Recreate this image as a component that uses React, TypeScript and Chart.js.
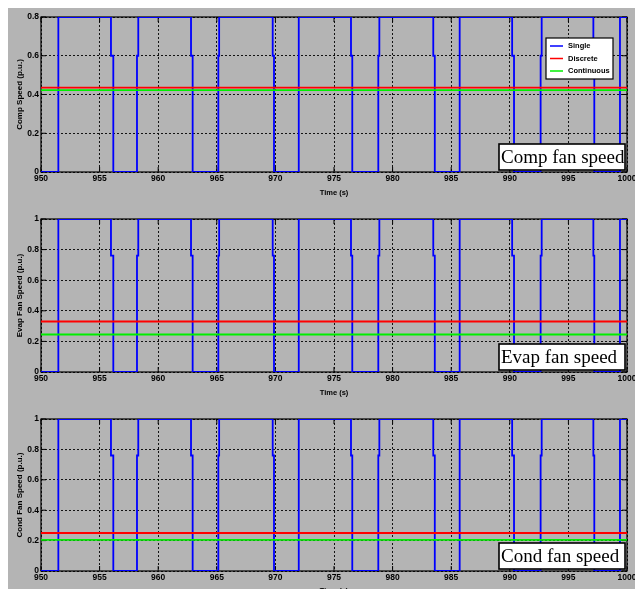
import React, { useEffect, useRef } from "react";
import { Chart, registerables } from "chart.js";

Chart.register(...registerables);

// ---- data ----
const singleTime = [
  950, 951.48, 951.48,
  955.97, 955.97, 956.17, 956.17,
  958.19, 958.19, 958.3, 958.3,
  962.8, 962.8, 962.94, 962.94,
  965.13, 965.13, 965.2, 965.2,
  969.77, 969.77, 969.88, 969.88,
  971.96, 971.96, 972.01, 972.01,
  976.45, 976.45, 976.56, 976.56,
  978.78, 978.78, 978.87, 978.87,
  983.47, 983.47, 983.6, 983.6,
  985.67, 985.67, 985.75, 985.75,
  990.2, 990.2, 990.36, 990.36,
  992.63, 992.63, 992.72, 992.72,
  997.13, 997.13, 997.21, 997.21,
  999.4, 999.4, 1000,
];
const compSingle = [
  0, 0, 0.8,
  0.8, 0.6, 0.6, 0,
  0, 0.6, 0.6, 0.8,
  0.8, 0.6, 0.6, 0,
  0, 0.6, 0.6, 0.8,
  0.8, 0.6, 0.6, 0,
  0, 0.6, 0.6, 0.8,
  0.8, 0.6, 0.6, 0,
  0, 0.6, 0.6, 0.8,
  0.8, 0.6, 0.6, 0,
  0, 0.6, 0.6, 0.8,
  0.8, 0.6, 0.6, 0,
  0, 0.6, 0.6, 0.8,
  0.8, 0.6, 0.6, 0,
  0, 0.8, 0.8,
];
const fanSingle = [
  0, 0, 1,
  1, 0.76, 0.76, 0,
  0, 0.76, 0.76, 1,
  1, 0.76, 0.76, 0,
  0, 0.76, 0.76, 1,
  1, 0.76, 0.76, 0,
  0, 0.76, 0.76, 1,
  1, 0.76, 0.76, 0,
  0, 0.76, 0.76, 1,
  1, 0.76, 0.76, 0,
  0, 0.76, 0.76, 1,
  1, 0.76, 0.76, 0,
  0, 0.76, 0.76, 1,
  1, 0.76, 0.76, 0,
  0, 1, 1,
];
const flatTime = [950, 1000];
const compDiscrete = [0.435, 0.435];
const compContinuous = [0.423, 0.423];
const evapDiscrete = [0.33, 0.33];
const evapContinuous = [0.245, 0.245];
const condDiscrete = [0.25, 0.25];
const condContinuous = [0.205, 0.205];

const xTickValues = [950, 955, 960, 965, 970, 975, 980, 985, 990, 995, 1000];
const compYTicks = [0, 0.2, 0.4, 0.6, 0.8];
const fanYTicks = [0, 0.2, 0.4, 0.6, 0.8, 1];

const seriesNames = ["Single", "Discrete", "Continuous"];
const seriesColors = ["#0000ff", "#ff0000", "#00ee00"];
const xTitle = "Time (s)";

const toPoints = (xs: number[], ys: number[]) => xs.map((x, i) => ({ x, y: ys[i] }));

const decorPlugin = {
  id: "decor",
  beforeDatasetsDraw(chart: any, _args: any, opts: any) {
    const { ctx, chartArea: a } = chart;
    const xs = chart.scales.x;
    const ys = chart.scales.y;
    ctx.save();
    ctx.setLineDash([]);
    ctx.strokeStyle = "#000";
    ctx.lineWidth = 1.2;
    ctx.strokeRect(a.left, a.top, a.right - a.left, a.bottom - a.top);
    ctx.lineWidth = 1;
    ctx.beginPath();
    xs.ticks.forEach((t: any) => {
      const px = xs.getPixelForValue(t.value);
      ctx.moveTo(px, a.bottom);
      ctx.lineTo(px, a.bottom - 5);
      ctx.moveTo(px, a.top);
      ctx.lineTo(px, a.top + 5);
    });
    ys.ticks.forEach((t: any) => {
      const py = ys.getPixelForValue(t.value);
      ctx.moveTo(a.left, py);
      ctx.lineTo(a.left + 5, py);
      ctx.moveTo(a.right, py);
      ctx.lineTo(a.right - 5, py);
    });
    ctx.stroke();
    ctx.restore();
  },
  afterDraw(chart: any, _args: any, opts: any) {
    const { ctx, chartArea: a } = chart;
    ctx.save();
    ctx.setLineDash([]);
    if (opts.legend) {
      const lx = a.right - 81;
      const ly = a.top + 21;
      const lw = 67;
      const lh = 41;
      ctx.fillStyle = "#fff";
      ctx.fillRect(lx, ly, lw, lh);
      ctx.strokeStyle = "#000";
      ctx.lineWidth = 1.2;
      ctx.strokeRect(lx, ly, lw, lh);
      ctx.font = "bold 7.5px 'Liberation Sans', Arial, sans-serif";
      ctx.textBaseline = "middle";
      ctx.textAlign = "left";
      chart.data.datasets.forEach((ds: any, i: number) => {
        const yy = ly + 8 + i * 12.5;
        ctx.strokeStyle = ds.borderColor;
        ctx.lineWidth = 1.5;
        ctx.beginPath();
        ctx.moveTo(lx + 4, yy);
        ctx.lineTo(lx + 17, yy);
        ctx.stroke();
        ctx.fillStyle = "#000";
        ctx.fillText(ds.label, lx + 22, yy);
      });
    }
    if (opts.label) {
      const bw = 126;
      const bh = 26;
      const bx = a.right - 2 - bw;
      const by = a.bottom - 2 - bh;
      ctx.fillStyle = "#fff";
      ctx.fillRect(bx, by, bw, bh);
      ctx.strokeStyle = "#000";
      ctx.lineWidth = 1.6;
      ctx.strokeRect(bx, by, bw, bh);
      ctx.fillStyle = "#000";
      ctx.font = "19px 'Liberation Serif', 'Times New Roman', serif";
      ctx.textBaseline = "alphabetic";
      ctx.textAlign = "left";
      ctx.fillText(opts.label, bx + 2, by + 19);
    }
    ctx.restore();
  },
};

type PanelProps = {
  top: number;
  chartTop: number;
  chartBottom: number;
  titlePad: number;
  single: number[];
  discrete: number[];
  continuous: number[];
  yTicks: number[];
  yMax: number;
  yTitle: string;
  label: string;
  legend: boolean;
};

const CANVAS_W = 627;
const CANVAS_H = 200;

function Panel(p: PanelProps) {
  const ref = useRef<HTMLCanvasElement>(null);
  useEffect(() => {
    if (!ref.current) return;
    const chart = new Chart(ref.current, {
      type: "line",
      data: {
        datasets: [
          {
            label: seriesNames[0],
            data: toPoints(singleTime, p.single),
            borderColor: seriesColors[0],
            borderWidth: 1.8,
            pointRadius: 0,
            tension: 0,
            order: 3,
          },
          {
            label: seriesNames[1],
            data: toPoints(flatTime, p.discrete),
            borderColor: seriesColors[1],
            borderWidth: 1.8,
            pointRadius: 0,
            order: 2,
          },
          {
            label: seriesNames[2],
            data: toPoints(flatTime, p.continuous),
            borderColor: seriesColors[2],
            borderWidth: 1.8,
            pointRadius: 0,
            order: 1,
          },
        ],
      },
      options: {
        responsive: false,
        animation: false,
        devicePixelRatio: 1,
        layout: { padding: { top: p.chartTop, left: 0, right: 8, bottom: 0 } },
        plugins: {
          legend: { display: false },
          tooltip: { enabled: false },
          decor: { legend: p.legend, label: p.label },
        } as any,
        scales: {
          x: {
            type: "linear",
            min: 950,
            max: 1000,
            afterBuildTicks: (s: any) => {
              s.ticks = xTickValues.map((v) => ({ value: v }));
            },
            afterFit: (s: any) => {
              s.height = CANVAS_H - p.chartBottom;
              s.paddingLeft = 0;
              s.paddingRight = 0;
            },
            ticks: {
              autoSkip: false,
              maxRotation: 0,
              padding: 2,
              color: "#000",
              font: { family: "'Liberation Sans', Arial, sans-serif", size: 8.5, weight: "bold" },
              callback: (v: any) => String(v),
            },
            grid: { color: "#000", lineWidth: 0.9, drawTicks: false },
            border: { display: false, dash: [2, 2] },
            title: {
              display: true,
              text: xTitle,
              color: "#000",
              font: { family: "'Liberation Sans', Arial, sans-serif", size: 7.5, weight: "bold" },
              padding: { top: 0, bottom: p.titlePad },
            },
          },
          y: {
            type: "linear",
            min: 0,
            max: p.yMax,
            afterBuildTicks: (s: any) => {
              s.ticks = p.yTicks.map((v) => ({ value: v }));
            },
            afterFit: (s: any) => {
              s.width = 33;
              s.paddingTop = 0;
              s.paddingBottom = 0;
            },
            ticks: {
              padding: 2,
              color: "#000",
              font: { family: "'Liberation Sans', Arial, sans-serif", size: 8.5, weight: "bold" },
              callback: (v: any) => String(Math.round(Number(v) * 10) / 10),
            },
            grid: { color: "#000", lineWidth: 0.9, drawTicks: false },
            border: { display: false, dash: [2, 2] },
            title: {
              display: true,
              text: p.yTitle,
              color: "#000",
              font: { family: "'Liberation Sans', Arial, sans-serif", size: 8, weight: "bold" },
              padding: { top: 7, bottom: 0 },
            },
          },
        },
      },
      plugins: [decorPlugin as any],
    } as any);
    return () => chart.destroy();
  }, []);
  return (
    <canvas
      ref={ref}
      width={CANVAS_W}
      height={CANVAS_H}
      style={{ position: "absolute", left: 0, top: p.top, width: CANVAS_W, height: CANVAS_H }}
    />
  );
}

export default function App() {
  return (
    <div
      style={{
        position: "fixed",
        left: 8,
        top: 8,
        width: CANVAS_W,
        height: 581,
        overflow: "hidden",
        background: "#b4b4b4",
      }}
    >
      <Panel
        top={0}
        chartTop={9}
        chartBottom={164}
        titlePad={10.5}
        single={compSingle}
        discrete={compDiscrete}
        continuous={compContinuous}
        yTicks={compYTicks}
        yMax={0.8}
        yTitle="Comp Speed (p.u.)"
        label="Comp fan speed"
        legend={true}
      />
      <Panel
        top={200}
        chartTop={11}
        chartBottom={164}
        titlePad={10.5}
        single={fanSingle}
        discrete={evapDiscrete}
        continuous={evapContinuous}
        yTicks={fanYTicks}
        yMax={1}
        yTitle="Evap Fan Speed (p.u.)"
        label="Evap fan speed"
        legend={false}
      />
      <Panel
        top={400}
        chartTop={11}
        chartBottom={163}
        titlePad={12.5}
        single={fanSingle}
        discrete={condDiscrete}
        continuous={condContinuous}
        yTicks={fanYTicks}
        yMax={1}
        yTitle="Cond Fan Speed (p.u.)"
        label="Cond fan speed"
        legend={false}
      />
    </div>
  );
}
